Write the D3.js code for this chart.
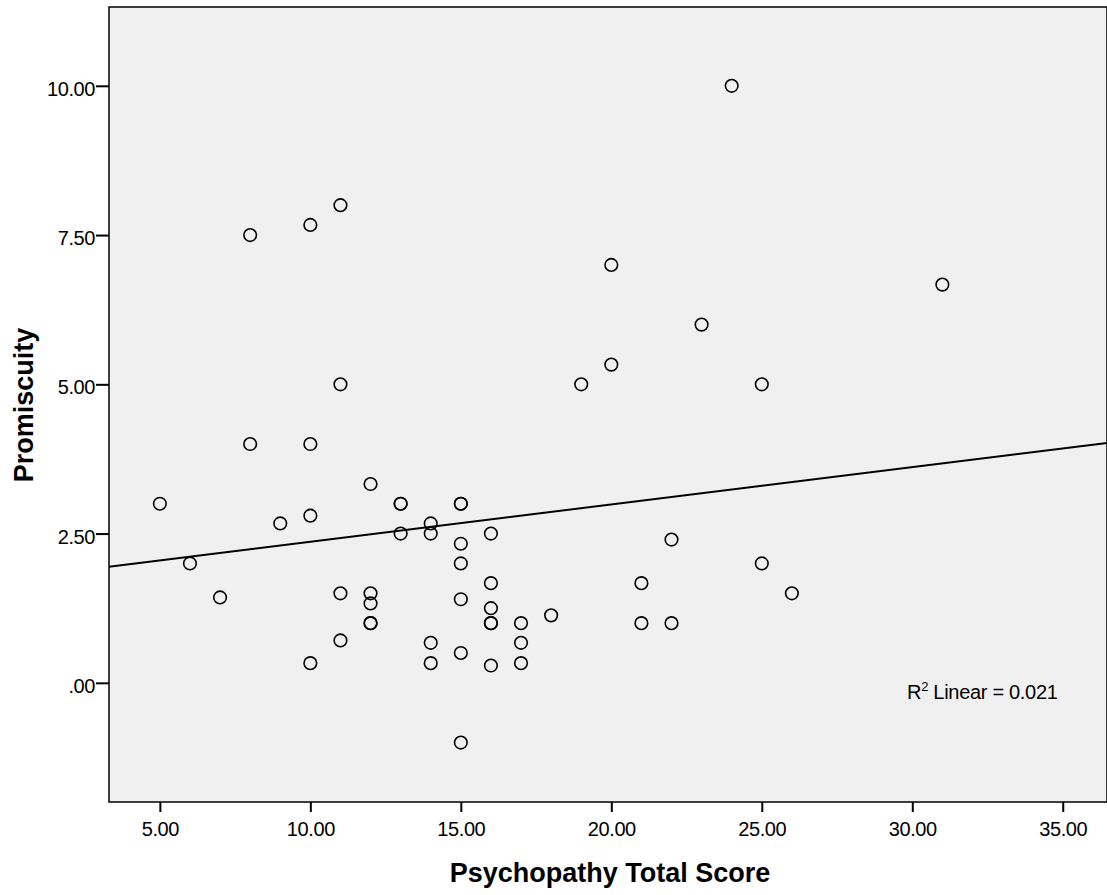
<!DOCTYPE html>
<html><head><meta charset="utf-8">
<script src="https://cdn.jsdelivr.net/npm/d3@7"></script>
<style>body{margin:0;background:#fff}svg{display:block}text{font-family:"Liberation Sans",Arial,sans-serif}</style>
</head><body>
<script>
const psychopathy = [5,6,7,8,8,9,10,10,10,10,11,11,11,11,12,12,12,12,12,13,13,13,14,14,14,14,15,15,15,15,15,15,15,16,16,16,16,16,16,17,17,17,18,19,20,20,21,21,22,22,23,24,25,25,26,31];
const promiscuity = [3.0,2.0,1.43,7.5,4.0,2.67,7.67,4.0,2.8,0.33,8.0,5.0,1.5,0.71,3.33,1.5,1.33,1.0,1.0,3.0,3.0,2.5,2.67,2.5,0.67,0.33,3.0,3.0,2.33,2.0,1.4,0.5,-1.0,2.5,1.67,1.25,1.0,1.0,0.29,1.0,0.67,0.33,1.13,5.0,7.0,5.33,1.67,1.0,2.4,1.0,6.0,10.0,5.0,2.0,1.5,6.67];
const xTicks = [5,10,15,20,25,30,35];
const yTicks = [0,2.5,5,7.5,10];
const fitIntercept = 1.736, fitSlope = 0.0626;
const r2Label = "Linear = 0.021";

const W=1107,H=895;
const m={l:109,t:7,r:1107,b:802};
const svg=d3.select("body").append("svg").attr("width",W).attr("height",H);
const x=d3.scaleLinear().domain([3.31,36.47]).range([m.l,m.r]);
const y=d3.scaleLinear().domain([-1.996,11.32]).range([m.b,m.t]);

svg.append("rect").attr("x",m.l).attr("y",m.t).attr("width",m.r-m.l).attr("height",m.b-m.t)
  .attr("fill","#f0f0f0").attr("stroke","#000").attr("stroke-width",1.5);

const fmtY=d=>d===0?".00":d3.format(".2f")(d);
const ya=svg.append("g").attr("transform",`translate(${m.l},0)`)
  .call(d3.axisLeft(y).tickValues(yTicks).tickFormat(fmtY).tickSize(13).tickPadding(1));
const xa=svg.append("g").attr("transform",`translate(0,${m.b})`)
  .call(d3.axisBottom(x).tickValues(xTicks).tickFormat(d3.format(".2f")).tickSize(10).tickPadding(10));
[ya,xa].forEach(g=>{g.attr("font-size",null).attr("font-family",null);
  g.select(".domain").remove();
  g.selectAll("line").attr("stroke","#000").attr("stroke-width",2);
  g.selectAll("text").style("font-size","20px").attr("letter-spacing","-0.4").attr("fill","#000");});
ya.selectAll("text").attr("dy","0.68em").attr("y",-4);

const xd=x.domain();
svg.append("line").attr("x1",x(xd[0])).attr("y1",y(fitIntercept+fitSlope*xd[0]))
  .attr("x2",x(xd[1])).attr("y2",y(fitIntercept+fitSlope*xd[1]))
  .attr("stroke","#000").attr("stroke-width",2);

svg.append("g").selectAll("circle").data(psychopathy.map((v,i)=>[v,promiscuity[i]])).join("circle")
  .attr("cx",d=>x(d[0])).attr("cy",d=>y(d[1])).attr("r",6.3)
  .attr("fill","none").attr("stroke","#000").attr("stroke-width",1.6);

const t=svg.append("text").attr("x",907).attr("y",699).style("font-size","20px").attr("letter-spacing","-0.3").attr("fill","#000");
t.append("tspan").text("R");
t.append("tspan").style("font-size","13px").attr("dy",-8).text("2");
t.append("tspan").attr("dy",8).text(" "+r2Label);

svg.append("text").attr("x",610).attr("y",882).attr("text-anchor","middle")
  .style("font-size","27px").attr("font-weight","bold").text("Psychopathy Total Score");
svg.append("text").attr("transform","translate(33,405) rotate(-90)").attr("text-anchor","middle")
  .style("font-size","27px").attr("font-weight","bold").text("Promiscuity");
</script>
</body></html>
